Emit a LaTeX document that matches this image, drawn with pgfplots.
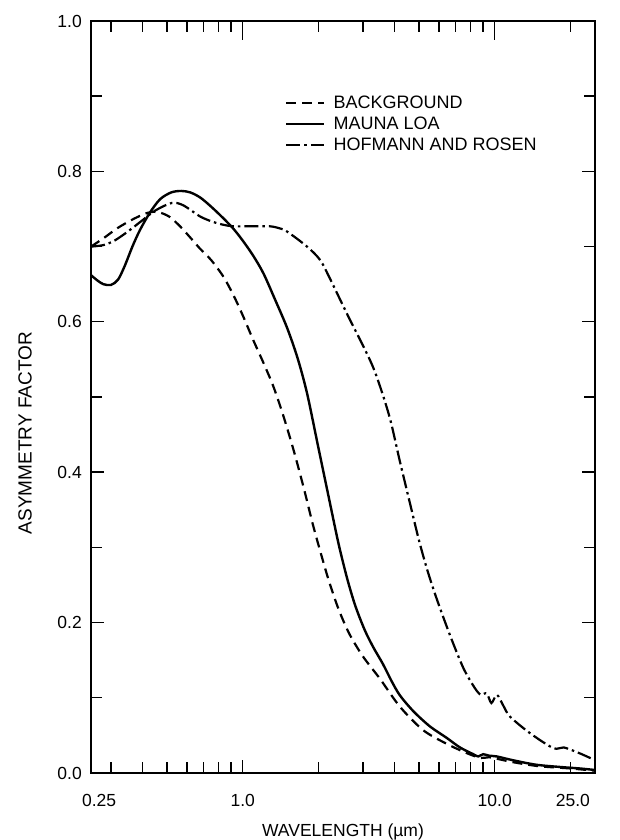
\documentclass[border=0pt]{standalone}
\usepackage{fontspec}
\setmainfont{Liberation Sans}
\usepackage{pgfplots}
\pgfplotsset{compat=1.18}
\newcommand\tl{\fontsize{17.5}{20}\selectfont}
\begin{document}
\begin{tikzpicture}
\begin{axis}[
  scale only axis, width=504pt, height=752pt,
  at={(0pt,0pt)}, anchor=south west,
  xmode=log, xmin=0.25, xmax=25, ymin=0, ymax=1,
  axis line style={line width=1.6pt},
  xtick={1,10}, xticklabels={1.0,10.0},
  minor xtick={0.3,0.4,0.5,0.6,0.7,0.8,0.9,2,3,4,5,6,7,8,9,20},
  ytick={0,0.2,0.4,0.6,0.8,1.0}, yticklabels={0.0,0.2,0.4,0.6,0.8,1.0},
  minor ytick={0.1,0.3,0.5,0.7,0.9},
  tick align=inside, tick pos=both,
  major tick length=13pt, minor tick length=11pt,
  tick style={black, line width=1.4pt},
  /pgf/number format/assume math mode=true,
  tick label style={font=\tl, inner sep=0pt},
  xticklabel style={yshift=-21pt},
  yticklabel style={xshift=-9pt},
  xlabel={WAVELENGTH (µm)},
  xlabel style={font=\tl, at={(axis description cs:0.5,0)}, anchor=center, yshift=-59pt},
  ylabel={ASYMMETRY FACTOR},
  ylabel style={font=\fontsize{19}{22}\selectfont, at={(axis description cs:-0.131,0.452)}, anchor=center},
  legend style={at={(axis description cs:0.385,0.903)}, anchor=north west, draw=none, fill=none,
    font=\fontsize{18}{20}\selectfont, inner sep=0pt, row sep=3pt, cells={anchor=west},
    /tikz/every odd column/.append style={column sep=6pt}},
  legend image code/.code={\draw[#1] (0pt,0pt) -- (38pt,0pt);},
  clip mode=individual,
]
% BACKGROUND (dashed)
\addplot[black, line width=2.2pt, dash pattern=on 10pt off 6pt, smooth] coordinates {
(0.25,0.700) (0.28,0.711) (0.32,0.725) (0.37,0.737) (0.42,0.745) (0.46,0.746) (0.51,0.740)
(0.564,0.727) (0.627,0.710) (0.678,0.697) (0.75,0.682) (0.838,0.660) (0.92,0.635) (1.005,0.607)
(1.1,0.576) (1.21,0.545) (1.32,0.515) (1.44,0.478) (1.59,0.430) (1.75,0.378) (1.9,0.330)
(2.05,0.290) (2.2,0.255) (2.4,0.218) (2.65,0.185) (3.0,0.155) (3.51,0.125) (4.21,0.088)
(5.2,0.057) (6.43,0.039) (7.8,0.026) (8.8,0.020) (9.5,0.021) (10.5,0.018) (12,0.014)
(15,0.009) (20,0.006) (25,0.003)
};
\addlegendentry{BACKGROUND}
% MAUNA LOA (solid)
\addplot[black, line width=2.4pt, smooth] coordinates {
(0.25,0.662) (0.265,0.655) (0.28,0.650) (0.30,0.649) (0.32,0.656) (0.34,0.674) (0.365,0.700)
(0.391,0.722) (0.428,0.745) (0.47,0.763) (0.52,0.772) (0.57,0.774) (0.62,0.772) (0.68,0.765)
(0.75,0.753) (0.83,0.739) (0.917,0.724) (1.0,0.708) (1.1,0.688) (1.21,0.664) (1.35,0.628)
(1.5,0.592) (1.65,0.552) (1.8,0.505) (1.99,0.435) (2.2,0.365) (2.4,0.305) (2.6,0.258)
(2.8,0.222) (3.05,0.190) (3.3,0.167) (3.6,0.145) (3.9,0.122) (4.21,0.103) (4.76,0.082)
(5.53,0.062) (6.43,0.047) (7.28,0.034) (8.22,0.025) (8.6,0.022) (9.0,0.025) (9.5,0.023)
(10.2,0.022) (11.8,0.017) (14.6,0.011) (18.2,0.008) (21.8,0.006) (25,0.004)
};
\addlegendentry{MAUNA LOA}
% HOFMANN AND ROSEN (dash-dot)
\addplot[black, line width=2.2pt, dash pattern=on 14pt off 4pt on 2.5pt off 4pt, smooth] coordinates {
(0.25,0.700) (0.28,0.702) (0.31,0.708) (0.35,0.720) (0.40,0.735) (0.45,0.748) (0.523,0.758)
(0.58,0.755) (0.678,0.740) (0.76,0.733) (0.838,0.729) (0.917,0.727) (1.07,0.727) (1.28,0.727)
(1.41,0.724) (1.50,0.720) (1.80,0.700) (2.03,0.682) (2.23,0.656) (2.59,0.611) (3.2,0.549)
(3.5,0.515) (3.85,0.470) (4.2,0.415) (4.6,0.360) (5.0,0.310) (5.4,0.270) (5.88,0.232)
(6.65,0.183) (7.5,0.140) (8.3,0.114) (8.8,0.104) (9.3,0.106) (9.7,0.093) (10.2,0.104)
(10.8,0.090) (11.5,0.075) (13.8,0.053) (17.1,0.033) (18.8,0.034) (21.8,0.026) (25,0.017)
};
\addlegendentry{HOFMANN AND ROSEN}
% x-axis tick marks (bottom and top)
\pgfplotsinvokeforeach{0.3,0.4,0.5,0.6,0.7,0.8,0.9,2,3,4,5,6,7,8,9,20}{
  \draw[black, line width=1.4pt] (axis cs:#1,0) -- ++(0pt,9pt);
  \draw[black, line width=1.4pt] (axis cs:#1,1) -- ++(0pt,-10pt);
}
\pgfplotsinvokeforeach{1,10}{
  \draw[black, line width=1.4pt] (axis cs:#1,0) -- ++(0pt,13pt);
  \draw[black, line width=1.4pt] (axis cs:#1,1) -- ++(0pt,-19pt);
}
\node[font=\tl, inner sep=0pt, anchor=north] at (axis description cs:0.016,0) [yshift=-21pt] {0.25};
\node[font=\tl, inner sep=0pt, anchor=north] at (axis description cs:0.956,0) [yshift=-21pt] {25.0};
\end{axis}
\pgfresetboundingbox
\path[use as bounding box] (-91pt,-67pt) rectangle (528pt,773pt);
\end{tikzpicture}
\end{document}
